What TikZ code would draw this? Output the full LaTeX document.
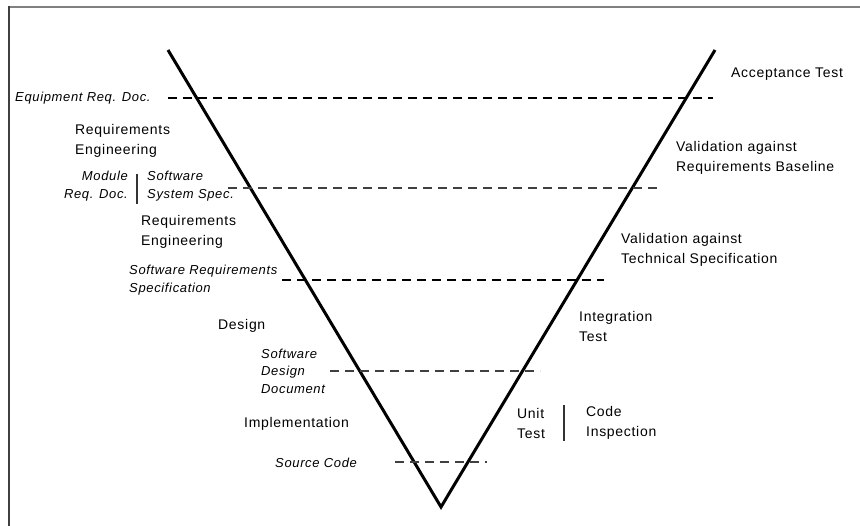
\documentclass[tikz,border=0pt]{standalone}
\usepackage{fontspec}
\setmainfont{Liberation Sans}
\newfontfamily\regfont[LetterSpace=5]{Liberation Sans}
\newfontfamily\itfont[LetterSpace=5]{Liberation Sans Italic}
\begin{document}
\begin{tikzpicture}[x=1pt,y=-1pt,
  vline/.style={line width=3pt,line join=miter},
  dashline/.style={dash pattern=on 9pt off 6pt,line width=1.3pt,black!75},
  phase/.style={inner sep=0pt,align=left,font=\regfont\fontsize{14}{20}\selectfont},
  doc/.style={inner sep=0pt,align=left,font=\itfont\fontsize{13}{17.5}\selectfont},
  sep/.style={line width=1.2pt,black!80}]
\useasboundingbox (0,0) rectangle (860,526);
\fill[white] (0,0) rectangle (860,526);
% frame
\draw[line width=2pt,black!50] (8,7) -- (860,7);
\draw[line width=2pt,black!75] (8.5,6) -- (8.5,526);
% V shape
\coordinate (lt) at (168,50);
\coordinate (bot) at (441,507);
\coordinate (rt) at (715,50);
\draw[vline] (lt) -- (bot) -- (rt);
% dashed baselines
\coordinate (d1a) at (168,98);  \coordinate (d1b) at (713,98);
\coordinate (d2a) at (228,188); \coordinate (d2b) at (657,188);
\coordinate (d3a) at (282,280); \coordinate (d3b) at (604,280);
\coordinate (d4a) at (330,371); \coordinate (d4b) at (540,371);
\coordinate (d5a) at (395,462); \coordinate (d5b) at (487,462);
\draw[dashline,black] (d1a) -- (d1b);
\draw[dashline] (d2a) -- (d2b);
\draw[dashline,black] (d3a) -- (d3b);
\draw[dashline] (d4a) -- (d4b);
\draw[dashline] (d5a) -- (d5b);
% left side texts
\node[doc,anchor=west] (erd) at (15,98) {Equipment Req. Doc.};
\node[phase,anchor=west] (re1) at (75,141) {Requirements\\Engineering};
\node[doc,anchor=east,align=right] (mrd) at (128,186) {Module\\Req. Doc.};
\node[doc,anchor=west] (sss) at (147,186) {Software\\System Spec.};
\coordinate (s1a) at (137,174); \coordinate (s1b) at (137,204);
\draw[sep] (s1a) -- (s1b);
\node[phase,anchor=west] (re2) at (141,232) {Requirements\\Engineering};
\node[doc,anchor=west] (srs) at (129,280) {Software Requirements\\Specification};
\node[phase,anchor=west] (des) at (218,326) {Design};
\node[doc,anchor=west] (sdd) at (261,371) {Software\\Design\\Document};
\node[phase,anchor=west] (imp) at (244,424) {Implementation};
\node[doc,anchor=west] (src) at (275,463) {Source Code};
% right side texts
\node[phase,anchor=west] (acc) at (731,74) {Acceptance Test};
\node[phase,anchor=west] (vrb) at (676,158) {Validation against\\Requirements Baseline};
\node[phase,anchor=west] (vts) at (621,250) {Validation against\\Technical Specification};
\node[phase,anchor=west] (int) at (579,326) {Integration\\Test};
\node[phase,anchor=west] (ut) at (517,423) {Unit\\Test};
\node[phase,anchor=west] (ci) at (586,423) {Code\\Inspection};
\coordinate (s2a) at (564,405); \coordinate (s2b) at (564,441);
\draw[sep] (s2a) -- (s2b);
\end{tikzpicture}
\end{document}
